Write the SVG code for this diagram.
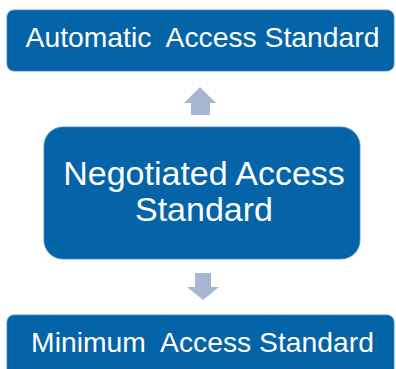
<svg xmlns="http://www.w3.org/2000/svg" width="396" height="369" viewBox="0 0 396 369">
<style>
.box{fill:#0563a8;stroke:#3f86c0;stroke-width:0.8}
.lbl{fill:#ffffff;font-family:"Liberation Sans",Arial,sans-serif;text-anchor:middle;white-space:pre}
.arr{fill:#a7b6d2}
</style>
<rect width="396" height="369" fill="#ffffff"/>
<g id="automatic">
<rect class="box" x="7" y="10" width="387" height="61" rx="7"/>
<text class="lbl" x="202.5" y="47" font-size="28.3" xml:space="preserve">Automatic  Access Standard</text>
</g>
<g id="negotiated">
<rect class="box" x="44" y="127" width="316" height="132" rx="19"/>
<text class="lbl" x="204" y="185" font-size="34">Negotiated Access</text>
<text class="lbl" x="204" y="221" font-size="34">Standard</text>
</g>
<g id="minimum">
<rect class="box" x="7" y="315" width="387" height="70" rx="7"/>
<text class="lbl" x="202.5" y="352" font-size="28.3" xml:space="preserve">Minimum  Access Standard</text>
</g>
<g id="connectors">
<polygon class="arr" points="200,87 216,103 210,103 210,115 191,115 191,103 184,103"/>
<polygon class="arr" points="195,273 211,273 211,287 219,287 203,300 187,287 195,287"/>
</g>
</svg>
